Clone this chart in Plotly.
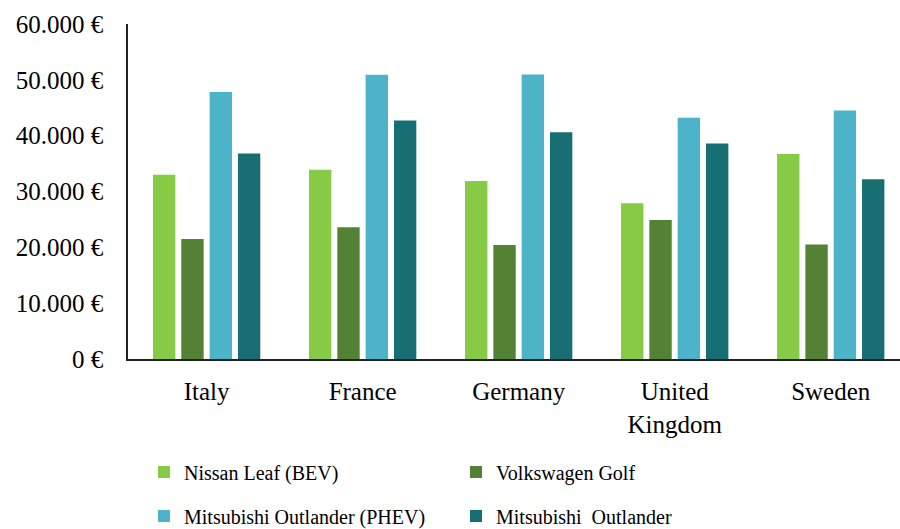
import plotly.graph_objects as go

countries = ["Italy", "France", "Germany", "United<br>Kingdom", "Sweden"]
series_names = ["Nissan Leaf (BEV)", "Volkswagen Golf", "Mitsubishi Outlander (PHEV)", "Mitsubishi  Outlander"]
nissan_leaf = [33000, 33900, 31900, 27900, 36700]
vw_golf = [21500, 23600, 20400, 24900, 20500]
outlander_phev = [47800, 50900, 50950, 43200, 44500]
outlander = [36800, 42700, 40600, 38600, 32200]
colors = ["#86CA45", "#548235", "#4DB3C8", "#176F73"]
y_tickvals = [0, 10000, 20000, 30000, 40000, 50000, 60000]
y_ticktext = ["0 €", "10.000 €", "20.000 €", "30.000 €", "40.000 €", "50.000 €", "60.000 €"]

FONT = "Liberation Serif, Times New Roman, serif"
values = [nissan_leaf, vw_golf, outlander_phev, outlander]
legends = ["legend", "legend", "legend2", "legend2"]

fig = go.Figure()
for name, vals, col, lg in zip(series_names, values, colors, legends):
    fig.add_trace(go.Bar(
        x=list(range(len(countries))), y=vals, name=name,
        marker=dict(color=col, line=dict(width=0)),
        legend=lg,
    ))

leg_common = dict(orientation="h", xref="container", yref="container",
                  x=0.160, xanchor="left", yanchor="middle",
                  entrywidth=267, entrywidthmode="pixels",
                  font=dict(family=FONT, size=20, color="black"),
                  bgcolor="rgba(0,0,0,0)", itemclick=False)

fig.update_layout(
    width=900, height=529,
    margin=dict(l=128, r=0, t=24, b=170),
    paper_bgcolor="white", plot_bgcolor="white",
    barmode="group", bargap=0.274, bargroupgap=0.21,
    font=dict(family=FONT, color="black", size=23),
    showlegend=True,
    legend=dict(y=1 - 472 / 529, **leg_common),
    legend2=dict(y=1 - 516 / 529, **leg_common),
    xaxis=dict(
        tickmode="array", tickvals=list(range(len(countries))), ticktext=countries,
        range=[-0.504, 4.444], showline=True, linecolor="#222222", linewidth=2,
        ticks="", showgrid=False, zeroline=False, ticklabelstandoff=9,
        tickfont=dict(family=FONT, size=25, color="black"),
    ),
    yaxis=dict(
        range=[0, 60000], tickmode="array", tickvals=y_tickvals, ticktext=y_ticktext,
        showline=True, linecolor="#222222", linewidth=1.5, ticks="",
        showgrid=False, zeroline=False, ticklabelstandoff=18,
        tickfont=dict(family=FONT, size=25, color="black"),
    ),
)

fig.write_html("out.html")
